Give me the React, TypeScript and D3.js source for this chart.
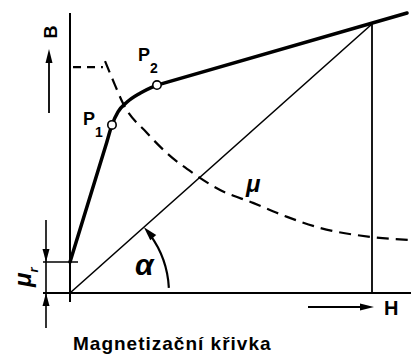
import React from "react";
import * as d3 from "d3";

// magnetisation curve B(H), arbitrary units (working point at H=100, B=100)
const curveH = [0, 11.9, 13.9, 15.9, 18.9, 23.2, 28.8];
const curveB = [11.5, 55.0, 62.5, 67.3, 71.0, 74.3, 77.3];
const tailH = [28.8, 111.6];
const tailB = [77.3, 104.1];
const markedIdx = [2, 6];
const markedNames = ["1", "2"];

// permeability curve mu(H)
const muH = [11.6, 14.9, 17.5, 25.5, 32.1, 40.7, 49.7, 60.6, 71.9, 82.8, 100, 112.9];
const muV = [86.2, 77.3, 70.6, 59.5, 52.0, 44.6, 38.3, 33.5, 28.3, 24.2, 20.8, 19.7];
const muStartH = [1.0, 10.9];
const muStartV = [84, 84];

const workH = 100;
const workB = 100;

const font = "'Liberation Sans', Arial, sans-serif";

function head(tx: number, ty: number, ang: number, len = 13, half = 3.5) {
  // ang = direction the arrow points to (radians)
  const bx = tx - len * Math.cos(ang);
  const by = ty - len * Math.sin(ang);
  const px = -Math.sin(ang) * half;
  const py = Math.cos(ang) * half;
  return `${tx},${ty} ${bx + px},${by + py} ${bx - px},${by - py}`;
}

export default function App() {
  const width = 411;
  const height = 354;
  const x = d3.scaleLinear().domain([0, 100]).range([70, 372]);
  const y = d3.scaleLinear().domain([0, 100]).range([293, 24]);

  const knee = d3
    .line<number>()
    .x((d) => x(curveH[d]))
    .y((d) => y(curveB[d]))
    .curve(d3.curveMonotoneX)(curveH.map((_, i) => i));
  const tail = d3
    .line<number>()
    .x((d) => x(tailH[d]))
    .y((d) => y(tailB[d]))(tailH.map((_, i) => i));
  const muPath = d3
    .line<number>()
    .x((d) => x(muH[d]))
    .y((d) => y(muV[d]))
    .curve(d3.curveMonotoneX)(muH.map((_, i) => i));
  const muFlat = d3
    .line<number>()
    .x((d) => x(muStartH[d]))
    .y((d) => y(muStartV[d]))(muStartH.map((_, i) => i));

  const x0 = x(0);
  const y0 = y(0);
  const yr = y(curveB[0]);

  // angle alpha arc
  const r = 99;
  const diagAng = Math.atan2(y0 - y(workB), x(workH) - x0);
  const a0 = (3 * Math.PI) / 180;
  const a1 = diagAng - 0.1;
  const arcPt = (a: number) => [x0 + r * Math.cos(a), y0 - r * Math.sin(a)];
  const [sx, sy] = arcPt(a0);
  const [ex, ey] = arcPt(a1);
  const [tx, ty] = arcPt(diagAng);
  const tanAng = Math.atan2(-Math.cos(diagAng), -Math.sin(diagAng));

  return (
    <svg
      width={width}
      height={height}
      style={{ position: "absolute", left: 0, top: 0, background: "#fff" }}
    >
      <rect width={width} height={height} fill="#fff" />
      <g stroke="#000" fill="none" strokeWidth={1.6}>
        {/* axes */}
        <line x1={x0} y1={13} x2={x0} y2={302} strokeWidth={2} />
        <line x1={43} y1={y0} x2={width} y2={y0} strokeWidth={2} />
        {/* mu_r level */}
        <line x1={43} y1={yr} x2={78} y2={yr} />
        <line x1={46} y1={220} x2={46} y2={328} />
        {/* working point */}
        <line x1={x(workH)} y1={y(workB)} x2={x(workH)} y2={y0} strokeWidth={1.8} />
        <line x1={x0} y1={y0} x2={x(workH)} y2={y(workB)} strokeWidth={1.6} />
        {/* mu curve */}
        <path d={muFlat || ""} strokeWidth={2.2} strokeDasharray="8,6" />
        <path d={muPath || ""} strokeWidth={2.2} strokeDasharray="12,7" />
        {/* B curve */}
        <path d={knee || ""} strokeWidth={3.5} strokeLinecap="round" />
        <path d={tail || ""} strokeWidth={3.5} strokeLinecap="round" />
        {/* alpha arc */}
        <path d={`M${sx},${sy} A${r},${r} 0 0 0 ${ex},${ey}`} strokeWidth={2.2} />
        {/* B and H arrows */}
        <line x1={49} y1={113} x2={49} y2={58} strokeWidth={1.8} />
        <line x1={308} y1={307} x2={365} y2={307} strokeWidth={1.8} />
      </g>
      <g fill="#000">
        <polygon points={head(46, yr, Math.PI / 2)} />
        <polygon points={head(46, y0, -Math.PI / 2)} />
        <polygon points={head(49, 49, -Math.PI / 2, 14, 3.5)} />
        <polygon points={head(374, 307, 0, 14, 3.5)} />
        <polygon points={head(tx, ty, tanAng, 14, 4)} />
      </g>
      {markedIdx.map((i) => (
        <circle
          key={i}
          cx={x(curveH[i])}
          cy={y(curveB[i])}
          r={4.2}
          fill="#fff"
          stroke="#000"
          strokeWidth={1.6}
        />
      ))}
      <g fontFamily={font} fontWeight="bold" fill="#000">
        <text x={83} y={125} fontSize={18}>
          P<tspan fontSize={14} dy={12}>{markedNames[0]}</tspan>
        </text>
        <text x={138} y={61} fontSize={18}>
          P<tspan fontSize={14} dy={12}>{markedNames[1]}</tspan>
        </text>
        <text x={0} y={0} fontSize={18} transform="translate(57,32) rotate(-90)" textAnchor="middle">
          B
        </text>
        <text x={384} y={315} fontSize={20}>
          H
        </text>
        <text x={135} y={275} fontSize={30} fontStyle="italic">
          α
        </text>
        <text x={246} y={192} fontSize={24} fontStyle="italic">
          μ
        </text>
        <text x={0} y={0} fontSize={24} fontStyle="italic" transform="translate(31,287) rotate(-90)">
          μ<tspan fontSize={13} dy={7}>r</tspan>
        </text>
        <text x={73} y={350} fontSize={19} letterSpacing={1}>
          Magnetizační křivka
        </text>
      </g>
    </svg>
  );
}
